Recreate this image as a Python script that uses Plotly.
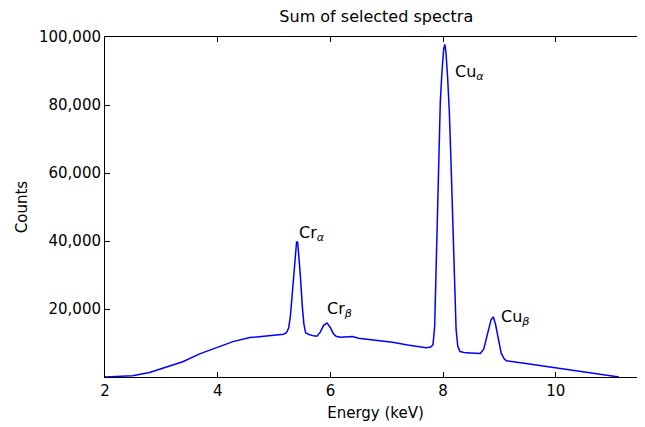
import plotly.graph_objects as go

# Summed spectrum (energy in keV, counts)
energy = [
    2.00, 2.20, 2.49, 2.79, 3.08, 3.38, 3.68, 3.98, 4.27, 4.57, 4.87, 5.17,
    5.22, 5.26, 5.29, 5.32, 5.35, 5.38, 5.40, 5.42, 5.44, 5.47, 5.50, 5.53,
    5.56, 5.62, 5.70, 5.76, 5.82, 5.88, 5.94, 6.00, 6.05, 6.10, 6.18, 6.28,
    6.39, 6.50, 6.70, 6.90, 7.10, 7.37, 7.55, 7.70, 7.78,
    7.82, 7.85, 7.87, 7.89, 7.92, 7.95, 7.98, 8.01, 8.03, 8.05, 8.08, 8.11,
    8.14, 8.17, 8.20, 8.23, 8.26, 8.30, 8.40, 8.55, 8.66,
    8.72, 8.76, 8.80, 8.85, 8.89, 8.93, 8.98, 9.03, 9.08, 9.12,
    9.50, 10.00, 10.50, 11.00, 11.12,
]
counts = [
    0, 100, 400, 1300, 2800, 4500, 6800, 8700, 10400, 11600, 12100, 12600,
    13000, 14500, 18000, 24000, 31000, 37000, 39800, 39500, 36000, 29000, 21000, 15500,
    13000, 12500, 12100, 12000, 13200, 15200, 15900, 14500, 12800, 12000, 11700, 11800,
    11900, 11400, 11000, 10600, 10200, 9400, 9000, 8600, 8800,
    9500, 15000, 28000, 45000, 68000, 81000, 90000, 96500, 97800, 95500, 88000, 78000,
    63000, 46000, 28000, 14000, 9000, 7500, 7100, 7000, 6900,
    8200, 10500, 13500, 16800, 17700, 15500, 11000, 7000, 5400, 4800,
    3900, 2700, 1500, 300, 0,
]

peak_labels = ["Cr<sub><i>α</i></sub>", "Cr<sub><i>β</i></sub>",
               "Cu<sub><i>α</i></sub>", "Cu<sub><i>β</i></sub>"]
label_x = [5.41, 5.90, 8.17, 9.00]
label_y = [40000, 17700, 87400, 15300]

x_ticks = [2, 4, 6, 8, 10]
y_ticks = [20000, 40000, 60000, 80000, 100000]

FONT = "DejaVu Sans"

fig = go.Figure(go.Scatter(
    x=energy, y=counts, mode="lines",
    line=dict(color="#0000ff", width=1.5),
))

for text, lx, ly in zip(peak_labels, label_x, label_y):
    fig.add_annotation(
        x=lx, y=ly, text=text, showarrow=False,
        xanchor="left", yanchor="bottom", yshift=-5,
        font=dict(family=FONT, size=16, color="black"),
    )

axis_common = dict(
    showline=True, linecolor="black", linewidth=1, mirror="ticks",
    ticks="inside", ticklen=5, tickcolor="black",
    showgrid=False, zeroline=False, automargin=False,
    tickfont=dict(family=FONT, size=15, color="black"),
)

fig.update_xaxes(
    range=[2, 11.6], tickvals=x_ticks,
    title=dict(text="Energy (keV)", font=dict(family=FONT, size=15, color="black"), standoff=8),
    **axis_common,
)
fig.update_yaxes(
    range=[0, 100000], tickvals=y_ticks, tickformat=",",
    title=dict(text="Counts", font=dict(family=FONT, size=15, color="black"), standoff=7),
    **axis_common,
)

# the page body adds an 8px offset, so margins are trimmed by that amount
fig.update_layout(
    width=645, height=427,
    margin=dict(l=97, r=7, t=29, b=58),
    title=dict(text="Sum of selected spectra", x=0.571, xanchor="center",
               y=0.98, yanchor="middle",
               font=dict(family=FONT, size=16, color="black")),
    paper_bgcolor="white", plot_bgcolor="white",
    showlegend=False,
)

fig.write_html("out.html")
